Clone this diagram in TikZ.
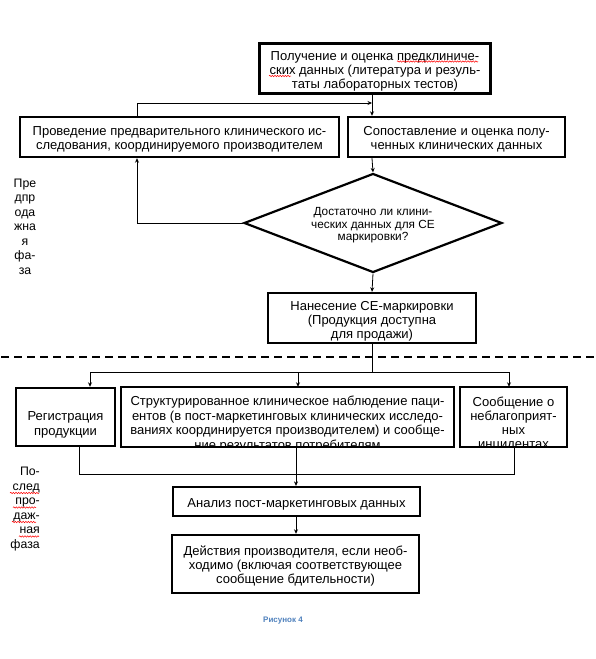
\documentclass[tikz,border=0pt]{standalone}
\usepackage{fontspec}
\setmainfont{Liberation Sans}
\usetikzlibrary{arrows.meta,shapes.geometric,decorations.pathmorphing}
\definecolor{capblue}{RGB}{79,129,189}
\begin{document}
\begin{tikzpicture}[x=1pt,y=-1pt,
  box/.style={draw,line width=2.4pt,inner sep=0pt},
  txt/.style={align=center,inner sep=0pt,font=\fontsize{13}{14.2}\selectfont},
  conn/.style={line width=0.8pt,-{Stealth[length=4.5pt,width=4pt]}},
  plain/.style={line width=0.8pt},
  spell/.style={red,line width=0.5pt,decorate,decoration={snake,amplitude=0.7pt,segment length=2.6pt}},
  lbl/.style={font=\fontsize{12.3}{14.5}\selectfont,align=center,inner sep=0pt}]
\fill[white] (0,0) rectangle (596,659);
\useasboundingbox (0,0) rectangle (596,659);

% pre-market phase
\node[box,line width=3pt,minimum width=231pt,minimum height=50pt] (pre) at (375,68.5) {};
\node[txt] (pretext) at ([yshift=-2.8pt]pre.center)
  {Получение и оценка предклиниче-\\ских данных (литература и резуль-\\таты лабораторных тестов)};
\node[box,minimum width=319pt,minimum height=40pt] (trial) at (179.5,137) {};
\node[txt] (trialtext) at ([yshift=-2.3pt]trial.center)
  {Проведение предварительного клинического ис-\\следования, координируемого производителем};
\node[box,minimum width=217pt,minimum height=40pt] (cmp) at (456.5,137) {};
\node[txt] (cmptext) at ([yshift=-2.3pt]cmp.center)
  {Сопоставление и оценка полу-\\ченных клинических данных};
\node[diamond,draw,line width=2.2pt,aspect=2.6,inner sep=0pt,minimum width=258pt,minimum height=99pt] (dec) at (373,223) {};
\node[txt,font=\fontsize{11.8}{12.4}\selectfont] (dectext) at ([yshift=-2.3pt]dec.center)
  {Достаточно ли клини-\\ческих данных для СЕ\\маркировки?};
\node[box,minimum width=208pt,minimum height=50pt] (ce) at (372,318) {};
\node[txt] (cetext) at ([yshift=-3.2pt]ce.center)
  {Нанесение СЕ-маркировки\\(Продукция доступна\\для продажи)};

\coordinate (tp) at (372,103);
\coordinate (fb) at (137,103);
\draw[conn] (pre.south -| tp) -- (cmp.north -| tp);
\draw[conn] (fb |- trial.north) -- (fb) -- (tp);
\draw[conn] (cmp.south -| tp) -- (dec.north);
\draw[conn] (dec.west) -- (dec.west -| fb) -- (fb |- trial.south);
\draw[conn] (dec.south) -- (ce.north);

% phase separator
\draw[line width=2pt,dash pattern=on 8pt off 5pt] (1,357) -- (596,357);

% post-market phase
\node[box,minimum width=99pt,minimum height=58pt] (reg) at (65.5,417) {};
\node[txt,font=\fontsize{13}{15.5}\selectfont] (regtext) at (65.5,425) {Регистрация\\продукции};
\node[box,draw=none,minimum width=331pt,minimum height=58pt] (obs) at (287.5,417) {};
\node[box,draw=none,minimum width=105pt,minimum height=58pt] (adv) at (513.5,417) {};
\begin{scope}
  \clip (obs.south west) rectangle (obs.north east);
  \node[txt,font=\fontsize{13}{14.7}\selectfont] (obstext) at (287.5,424)
    {Структурированное клиническое наблюдение паци-\\ентов (в пост-маркетинговых клинических исследо-\\ваниях координируется производителем) и сообще-\\ние результатов потребителям};
\end{scope}
\begin{scope}
  \clip (adv.south west) rectangle (adv.north east);
  \node[txt,font=\fontsize{13}{14}\selectfont] (advtext) at (513.5,424)
    {Сообщение о\\неблагоприят-\\ных\\инцидентах};
\end{scope}
\draw[line width=2.4pt] (obs.south west) rectangle (obs.north east);
\draw[line width=2.4pt] (adv.south west) rectangle (adv.north east);

\coordinate (br) at (372,372);
\coordinate (bl) at (90,372);
\coordinate (bm) at (298,372);
\coordinate (bR) at (509,372);
\draw[plain] (ce.south) -- (br);
\draw[plain] (bl) -- (bR);
\draw[conn] (bl) -- (bl |- reg.north);
\draw[conn] (bm) -- (bm |- obs.north);
\draw[conn] (bR) -- (bR |- adv.north);

\node[box,line width=2.2pt,minimum width=247pt,minimum height=29pt] (ana) at (296.5,501.5) {};
\node[txt] (anatext) at ([yshift=-2.8pt]ana.center) {Анализ пост-маркетинговых данных};
\node[box,minimum width=247pt,minimum height=58pt] (act) at (295.5,564) {};
\node[txt] (acttext) at ([yshift=-2.3pt]act.center)
  {Действия производителя, если необ-\\ходимо (включая соответствующее\\сообщение бдительности)};

\coordinate (j1) at (79,474);
\coordinate (j2) at (296,474);
\coordinate (j3) at (514,474);
\draw[plain] (j1 |- reg.south) -- (j1) -- (j3) -- (j3 |- adv.south);
\draw[plain] (j2 |- obs.south) -- (j2);
\draw[conn] (j2) -- (j2 |- ana.north);
\draw[conn] (ana.south -| j2) -- (act.north -| j2);

% phase labels
\node[lbl] (prelab) at (25,226.5) {Пре\\дпр\\ода\\жна\\я\\фа-\\за};
\node[lbl,align=right,anchor=east] (postlab) at (40,509) {По-\\след\\про-\\даж-\\ная\\фаза};

% spell-check marks
\draw[spell] (397,61.5) -- (478,61.5);
\draw[spell] (269,76) -- (291,76);
\draw[spell] (10,493) -- (39,493);
\draw[spell] (13,507.5) -- (36,507.5);
\draw[spell] (12,522) -- (36,522);
\draw[spell] (19,536.5) -- (39,536.5);

% caption
\node[font=\bfseries\fontsize{8}{10}\selectfont,text=capblue] (cap) at (283,621) {Рисунок 4};
\end{tikzpicture}
\end{document}
